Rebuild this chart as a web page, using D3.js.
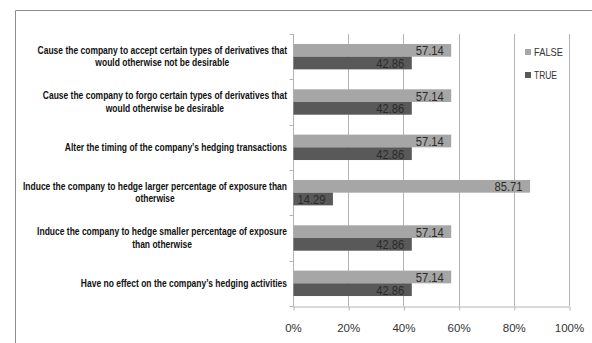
<!DOCTYPE html>
<html>
<head>
<meta charset="utf-8">
<script src="https://cdn.jsdelivr.net/npm/d3@7"></script>
<style>
  html, body { margin: 0; padding: 0; background: #fff; }
  svg { display: block; font-family: "Liberation Sans", Arial, sans-serif; }
</style>
</head>
<body>
<svg id="chart" width="592" height="343"></svg>
<script>
// Survey responses, top to bottom
const categories = [
  "Cause the company to accept certain types of derivatives that\nwould otherwise not be desirable",
  "Cause the company to forgo certain types of derivatives that\nwould otherwise be desirable",
  "Alter the timing of the company\u2019s hedging transactions",
  "Induce the company to hedge larger percentage of exposure than\notherwise",
  "Induce the company to hedge smaller percentage of exposure\nthan otherwise",
  "Have no effect on the company\u2019s hedging activities"
];
const seriesNames = ["FALSE", "TRUE"];
const falseValues = [57.14, 57.14, 57.14, 85.71, 57.14, 57.14];
const trueValues  = [42.86, 42.86, 42.86, 14.29, 42.86, 42.86];
const xTicks = [0, 20, 40, 60, 80, 100];

const colors = { FALSE: "#a6a6a6", TRUE: "#595959" };
const gridColor = "#b4b4b4";
const textColor = "#333";

const svg = d3.select("#chart");

// Outer frame (top and left edges)
svg.append("path")
  .attr("d", "M15.5,343 L15.5,10.5 L592,10.5")
  .attr("fill", "none").attr("stroke", "#8c8c8c").attr("stroke-width", 1);

const x = d3.scaleLinear().domain([0, 100]).range([293, 569]);
const y = d3.scaleBand().domain(categories).range([34, 306])
  .paddingInner(0.44).paddingOuter(0.22);
const ySub = d3.scaleBand().domain(seriesNames).range([0, y.bandwidth()]);

// Vertical gridlines
svg.append("g").selectAll("line")
  .data(xTicks.filter(d => d > 0))
  .join("line")
  .attr("x1", d => Math.round(x(d)) + 0.5).attr("x2", d => Math.round(x(d)) + 0.5)
  .attr("y1", y.range()[0]).attr("y2", y.range()[1])
  .attr("stroke", gridColor);

// Bottom axis
const xAxis = svg.append("g")
  .attr("transform", `translate(0,${y.range()[1] + 0.5})`)
  .call(d3.axisBottom(x).tickValues(xTicks).tickFormat(d => d + "%")
    .tickSizeInner(4).tickSizeOuter(0).tickPadding(13));
xAxis.select(".domain").attr("stroke", gridColor);
xAxis.selectAll(".tick line").attr("stroke", gridColor)
  .attr("transform", "translate(0.5,0)");
xAxis.selectAll(".tick text")
  .attr("fill", textColor).attr("font-size", 11.5)
  .attr("font-family", "Liberation Sans, Arial, sans-serif");

// Left axis line with ticks at category boundaries
const x0 = Math.round(x(0)) + 0.5;
svg.append("line")
  .attr("x1", x0).attr("x2", x0)
  .attr("y1", y.range()[0]).attr("y2", y.range()[1])
  .attr("stroke", gridColor);
const gap = (y.step() - y.bandwidth()) / 2;
const boundaries = categories.map(c => y(c) - gap).concat([y.range()[1]]);
svg.append("g").selectAll("line")
  .data(boundaries)
  .join("line")
  .attr("x1", x0 - 4).attr("x2", x0)
  .attr("y1", d => Math.round(d) + 0.5).attr("y2", d => Math.round(d) + 0.5)
  .attr("stroke", gridColor);

// Bars
const rows = categories.map((c, i) => ({ cat: c, FALSE: falseValues[i], TRUE: trueValues[i] }));
const groups = svg.append("g").selectAll("g")
  .data(rows)
  .join("g")
  .attr("transform", d => `translate(0,${y(d.cat)})`);

groups.selectAll("rect")
  .data(d => seriesNames.map(s => ({ s, v: d[s] })))
  .join("rect")
  .attr("x", x(0) + 0.5)
  .attr("y", d => ySub(d.s))
  .attr("width", d => x(d.v) - x(0))
  .attr("height", ySub.bandwidth())
  .attr("fill", d => colors[d.s]);

// Value labels inside the bar ends
groups.selectAll("text")
  .data(d => seriesNames.map(s => ({ s, v: d[s] })))
  .join("text")
  .attr("x", d => x(d.v) - 7)
  .attr("y", d => ySub(d.s) + ySub.bandwidth() / 2 + 0.5)
  .attr("dy", "0.36em")
  .attr("text-anchor", "end")
  .attr("font-size", 12.5)
  .attr("textLength", 28)
  .attr("lengthAdjust", "spacingAndGlyphs")
  .attr("fill", "#2b2b2b")
  .text(d => d.v.toFixed(2));

// Category labels: centred lines, block right-aligned to the axis
const labelRight = 287;
const lineHeight = 12.5;
const labels = svg.append("g").selectAll("g")
  .data(categories)
  .join("g");
labels.each(function (c) {
  const g = d3.select(this);
  const lines = c.split("\n");
  lines.forEach((ln, j) => {
    g.append("text")
      .attr("x", 0)
      .attr("y", (j - (lines.length - 1) / 2) * lineHeight)
      .attr("dy", "0.35em")
      .attr("text-anchor", "middle")
      .attr("font-size", 10.2)
      .attr("font-weight", "bold")
      .attr("fill", "#111")
      .text(ln);
  });
});
// Condense the label face horizontally so the widest line spans 264px
let widest = 0;
labels.selectAll("text").each(function () {
  widest = Math.max(widest, this.getComputedTextLength());
});
const k = 264 / widest;
labels.each(function (c) {
  let w = 0;
  d3.select(this).selectAll("text").each(function () {
    w = Math.max(w, this.getComputedTextLength());
  });
  const cx = labelRight - (w * k) / 2;
  const cy = y(c) + y.bandwidth() / 2;
  d3.select(this).attr("transform", `translate(${cx},${cy}) scale(${k},1)`);
});

// Legend
const legend = svg.append("g").selectAll("g")
  .data(seriesNames)
  .join("g")
  .attr("transform", (d, i) => `translate(525,${52 + i * 23})`);
legend.append("rect")
  .attr("x", 0).attr("y", -3).attr("width", 6).attr("height", 6)
  .attr("fill", d => colors[d]);
legend.append("text")
  .attr("x", 9).attr("y", 0).attr("dy", "0.36em")
  .attr("font-size", 11.5)
  .attr("textLength", d => d === "FALSE" ? 29 : 23)
  .attr("lengthAdjust", "spacingAndGlyphs")
  .attr("fill", textColor)
  .text(d => d);
</script>
</body>
</html>
